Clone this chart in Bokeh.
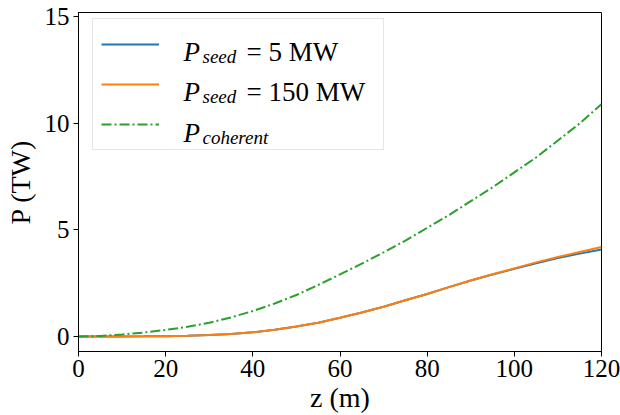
from bokeh.plotting import figure
from bokeh.models import Range1d, Legend, LegendItem, Label, FixedTicker
from bokeh.embed import file_html
from bokeh.resources import INLINE

# Data
z = [0, 5, 10, 15, 20, 25, 30, 35, 40, 45, 50, 55, 60, 65, 70, 75, 80, 85, 90, 95, 100, 105, 110, 115, 120]
p_seed_5 = [0.0, 0.0, 0.005, 0.01, 0.02, 0.04, 0.07, 0.12, 0.2, 0.32, 0.47, 0.65, 0.88, 1.13, 1.4, 1.7, 2.0,
            2.32, 2.63, 2.91, 3.18, 3.44, 3.68, 3.89, 4.08]
p_seed_150 = [0.0, 0.0, 0.005, 0.01, 0.02, 0.04, 0.07, 0.12, 0.2, 0.32, 0.47, 0.65, 0.88, 1.13, 1.4, 1.7, 2.0,
              2.32, 2.63, 2.92, 3.2, 3.48, 3.73, 3.97, 4.2]
p_coherent = [0.0, 0.03, 0.1, 0.19, 0.31, 0.46, 0.65, 0.9, 1.2, 1.55, 1.95, 2.42, 2.92, 3.42, 3.95, 4.5, 5.1,
              5.7, 6.35, 7.0, 7.7, 8.4, 9.2, 10.0, 10.9]
x_ticks = [0, 20, 40, 60, 80, 100, 120]
y_ticks = [0, 5, 10, 15]
legend_sub = ["seed", "seed", "coherent"]
legend_rest = ["= 5 MW", "= 150 MW", ""]

FONT = "Liberation Serif"

p = figure(width=620, height=415, output_backend="svg", toolbar_location=None,
           x_range=Range1d(0, 120), y_range=Range1d(-0.7, 15.2),
           min_border_left=78, min_border_right=19, min_border_top=12, min_border_bottom=63)
p.background_fill_color = "white"
p.border_fill_color = "white"
p.outline_line_color = "black"
p.outline_line_width = 1
p.grid.visible = False

r1 = p.line(z, p_seed_5, line_color="#1f77b4", line_width=2)
r2 = p.line(z, p_seed_150, line_color="#ff7f0e", line_width=2)
r3 = p.line(z, p_coherent, line_color="#2ca02c", line_width=2, line_dash="10 3 2 3")

for ax in (p.xaxis[0], p.yaxis[0]):
    ax.axis_line_color = "black"
    ax.major_tick_line_color = "black"
    ax.major_tick_out = 5
    ax.major_tick_in = 0
    ax.minor_tick_line_color = None
    ax.major_label_text_font = FONT
    ax.major_label_text_font_size = "25px"
    ax.major_label_text_color = "black"
    ax.axis_label_text_font = FONT
    ax.axis_label_text_font_size = "28px"
    ax.axis_label_text_font_style = "normal"
    ax.axis_label_text_color = "black"

p.xaxis.ticker = FixedTicker(ticks=x_ticks)
p.yaxis.ticker = FixedTicker(ticks=y_ticks)
p.xaxis.axis_label = "z (m)"
p.yaxis.axis_label = "P (TW)"
p.xaxis.major_label_standoff = 3
p.yaxis.major_label_standoff = 4
p.xaxis.axis_label_standoff = 2
p.yaxis.axis_label_standoff = 6

legend = Legend(items=[LegendItem(label=" ", renderers=[r]) for r in (r1, r2, r3)],
                location=(14, 201), margin=0, padding=8, spacing=6,
                glyph_width=58, glyph_height=34, label_height=34, label_width=211,
                label_standoff=5, label_text_font_size="10px",
                border_line_color="#cccccc", border_line_width=1,
                background_fill_color="white", background_fill_alpha=0.0)
p.add_layout(legend, "center")

row_base = [300, 260, 219]
for i in range(3):
    p.add_layout(Label(x=105, y=row_base[i], x_units="screen", y_units="screen", text="P",
                       text_font=FONT, text_font_size="27px", text_font_style="italic",
                       text_baseline="alphabetic", text_color="black"))
    p.add_layout(Label(x=124, y=row_base[i] - 5, x_units="screen", y_units="screen", text=legend_sub[i],
                       text_font=FONT, text_font_size="19px", text_font_style="italic",
                       text_baseline="alphabetic", text_color="black"))
    if legend_rest[i]:
        p.add_layout(Label(x=168, y=row_base[i], x_units="screen", y_units="screen", text=legend_rest[i],
                           text_font=FONT, text_font_size="27px",
                           text_baseline="alphabetic", text_color="black"))

open("out.html", "w").write(file_html(p, INLINE))
